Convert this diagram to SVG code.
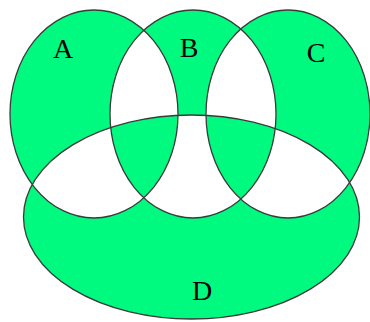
<svg xmlns="http://www.w3.org/2000/svg" width="370" height="322" viewBox="0 0 370 322">
<style>
.o{fill:none;stroke:#3a3a3a;stroke-width:1.3}
.t{font-family:"Liberation Serif","DejaVu Serif",serif;font-size:28px;fill:#000;text-anchor:middle}
</style>
<rect width="370" height="322" fill="#fff"/>
<path id="regions" fill="#00FA80" fill-rule="evenodd" d="M 10 114 a 84 104 0 1 0 168 0 a 84 104 0 1 0 -168 0 Z M 110 114 a 83 104 0 1 0 166 0 a 83 104 0 1 0 -166 0 Z M 206 114 a 82 104 0 1 0 164 0 a 82 104 0 1 0 -164 0 Z M 23.5 217 a 168 102 0 1 0 336 0 a 168 102 0 1 0 -336 0 Z"/>
<g id="connectors"></g>
<g id="A"><ellipse class="o" cx="94" cy="114" rx="84" ry="104"/><text class="t" x="63" y="58">A</text></g>
<g id="B"><ellipse class="o" cx="193" cy="114" rx="83" ry="104"/><text class="t" x="189" y="57">B</text></g>
<g id="C"><ellipse class="o" cx="288" cy="114" rx="82" ry="104"/><text class="t" x="316" y="62">C</text></g>
<g id="D"><ellipse class="o" cx="191.5" cy="217" rx="168" ry="102"/><text class="t" x="202" y="300">D</text></g>
</svg>
